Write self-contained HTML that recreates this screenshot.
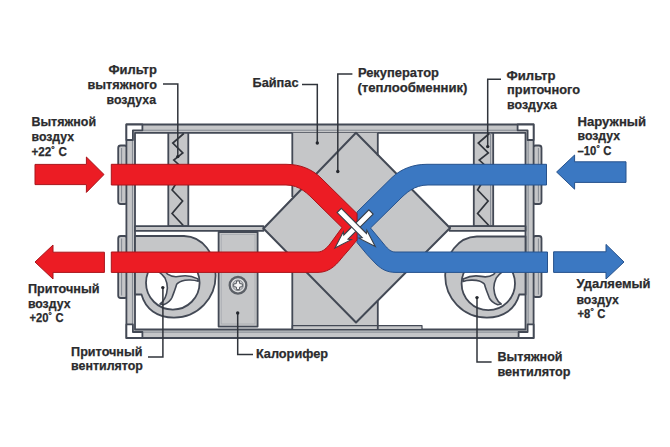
<!DOCTYPE html>
<html lang="ru">
<head>
<meta charset="utf-8">
<title>Приточно-вытяжная установка с рекуператором</title>
<style>
  html, body { margin: 0; padding: 0; background: #ffffff; }
  body { width: 670px; height: 447px; overflow: hidden; font-family: "Liberation Sans", sans-serif; }
  svg { display: block; }
  .t { font-family: "Liberation Sans", sans-serif; font-weight: bold; font-size: 13.2px; fill: #2b2b2d; stroke: #2b2b2d; stroke-width: 0.25; }
  .ln { fill: none; stroke: #30343b; stroke-width: 1.5; }
  .o { stroke: #434955; stroke-width: 1.8; stroke-linejoin: round; }
  .o2 { stroke: #7d838c; stroke-width: 0.9; fill: none; }
  .g { fill: #c5c6c8; }
  .w { fill: #ffffff; }
</style>
</head>
<body>
<svg width="670" height="447" viewBox="0 0 670 447">
  <rect x="0" y="0" width="670" height="447" fill="#ffffff"/>

  <!-- ===== housing ===== -->
  <g id="housing">
    <rect class="o g" x="118.2" y="145.5" width="9" height="58.5" rx="2.5"/>
    <rect class="o g" x="118.2" y="236" width="9" height="62" rx="2.5"/>
    <rect class="o g" x="533" y="145.5" width="8.5" height="58.5" rx="2.5"/>
    <rect class="o g" x="533" y="236" width="8.5" height="61" rx="2.5"/>
    <line class="o2" x1="121.6" y1="148" x2="121.6" y2="201.5"/>
    <line class="o2" x1="121.6" y1="238.5" x2="121.6" y2="295.5"/>
    <line class="o2" x1="538.4" y1="148" x2="538.4" y2="201.5"/>
    <line class="o2" x1="538.4" y1="238.5" x2="538.4" y2="294.5"/>
    <rect class="o g" x="126.4" y="124.5" width="407.20000000000005" height="213.5"/>
    <rect class="o2" x="132.4" y="130.20000000000002" width="395.7" height="201.89999999999998" fill="none"/>
    <rect class="o w" x="135.0" y="132.8" width="390.5" height="196.7"/>
    <!-- corner brackets -->
    <path class="o w" d="M126.4,124.5 H142.4 V130.3 H132.9 V140.0 H126.4 Z"/>
    <path class="o w" d="M533.6,124.5 H517.6 V130.3 H527.6 V140.0 H533.6 Z"/>
    <path class="o w" d="M126.4,338.0 H142.4 V332.0 H132.9 V324.4 H126.4 Z"/>
    <path class="o w" d="M533.6,338.0 H518.6 V332.0 H527.6 V324.4 H533.6 Z"/>
  </g>

  <!-- ===== filters ===== -->
  <g id="filters">
    <rect class="o g" x="168.3" y="132.8" width="20" height="93.39999999999998"/>
    <polyline class="ln" style="stroke-width:1.7" points="183.8,133.5 172.8,143.0 182.8,153.0 173.8,160.0 180.3,166.0"/>
    <polyline class="ln" style="stroke-width:1.7" points="176.3,183.0 172.1,190.0 182.6,201.0 172.1,213.5 183.3,225.5"/>
    <rect class="o g" x="473.8" y="132.8" width="19.4" height="93.39999999999998"/>
    <line class="o2" x1="490.6" y1="132.8" x2="490.6" y2="226"/>
    <polyline class="ln" style="stroke-width:1.7" points="489.3,133.5 478.3,143.0 488.3,153.0 479.3,160.0 485.8,166.0"/>
    <polyline class="ln" style="stroke-width:1.7" points="481.8,183.0 477.6,190.0 488.1,201.0 477.6,213.5 488.8,225.5"/>
  </g>

  <!-- ===== shelves ===== -->
  <rect class="o g" x="135.0" y="226.2" width="128.5" height="4.6"/>
  <rect class="o g" x="449.5" y="226.2" width="76.0" height="4.6"/>

  <!-- ===== fans ===== -->
  <g id="fanL">
    <path class="o g" d="M135.0,236 H184 C203,236.5 215.2,254 215.6,275 C216,298 198,317.6 174,317.6 C157,317.6 145.5,309 141.5,294.5 H135.0 Z"/>
    <circle class="o w" cx="172.8" cy="282.8" r="26.8"/>
    <path transform="translate(172,282.5)" class="o g" style="stroke-width:1.6" d="M-4.5,-8.3 C-1,-6 4,-5.3 8,-6.2 C13,-7.3 20,-6.5 26,-3.6 L26.2,-1.2 C22,-2.6 14,-3 10,-1.5 C7,-0.3 5,1 4.5,2.2 C3.8,5.5 1.8,10 0,15 C-1.5,18.5 -5,20.8 -8.5,22.2 L-12,21.4 C-7.5,18.5 -5.2,13 -4.6,5.5 C-4.6,1 -5.8,-2 -7,-4.5 C-8.5,-6.8 -10.5,-8.8 -12.5,-10.2 L-19,-15 L-16,-18 C-11,-15 -6.5,-11.5 -4.5,-8.3 Z"/>
  </g>
  <g id="fanR">
    <path class="o g" d="M525.5,236.5 H476.8 C457.8,237 445.6,254.5 445.2,275 C444.8,298 462.8,317.6 486.8,317.6 C503.8,317.6 515.3,309 519.3,294.5 H525.5 Z"/>
    <circle class="o w" cx="488.3" cy="283.5" r="26.7"/>
    <path transform="translate(489.2,282.6) scale(-1,1)" class="o g" style="stroke-width:1.6" d="M-4.5,-8.3 C-1,-6 4,-5.3 8,-6.2 C13,-7.3 20,-6.5 26,-3.6 L26.2,-1.2 C22,-2.6 14,-3 10,-1.5 C7,-0.3 5,1 4.5,2.2 C3.8,5.5 1.8,10 0,15 C-1.5,18.5 -5,20.8 -8.5,22.2 L-12,21.4 C-7.5,18.5 -5.2,13 -4.6,5.5 C-4.6,1 -5.8,-2 -7,-4.5 C-8.5,-6.8 -10.5,-8.8 -12.5,-10.2 L-19,-15 L-16,-18 C-11,-15 -6.5,-11.5 -4.5,-8.3 Z"/>
  </g>

  <!-- ===== heater ===== -->
  <g id="heater">
    <rect class="o g" x="218.6" y="232" width="39" height="94.6"/>
    <rect x="221.2" y="234.6" width="33.8" height="89.4" fill="none" stroke="#a3a7ad" stroke-width="0.7"/>
    <g transform="translate(238,285.3)">
      <circle r="8.3" fill="#dedfe0" stroke="#5c6067" stroke-width="2.3"/>
      <circle r="5.3" fill="#cbccce" stroke="#777b82" stroke-width="0.8"/>
      <path d="M-1.4,-4.3 H1.4 L1.7,-1.7 L4.3,-1.4 V1.4 L1.7,1.7 L1.4,4.3 H-1.4 L-1.7,1.7 L-4.3,1.4 V-1.4 L-1.7,-1.7 Z" fill="#f5f5f5" stroke="#4a4e56" stroke-width="0.9" stroke-linejoin="round"/>
    </g>
  </g>

  <!-- ===== exchanger block ===== -->
  <g id="core">
    <path class="g" d="M292.3,132.8 H377.8 V156 L450,228 L377.8,300.5 V329.5 H292.3 V257.5 L263.5,228.5 L292.3,197 Z"/>
    <path class="o g" d="M292.3,325.6 H422 V329.5 H292.3 Z" style="stroke-width:1.2"/>
    <path class="o" fill="none" style="stroke-width:2" d="M356,132.8 L450,228 L356,322.5 L263.5,228.5 Z"/>
    <path class="o" fill="none" d="M292.3,132.8 V197 M292.3,257.5 V329.5 M377.8,132.8 V156 M377.8,300.5 V329.5"/>
  </g>

  <!-- ===== air streams ===== -->
  <g id="streams" stroke-width="1" stroke-linejoin="round">
    <path fill="#3b78c2" stroke="#27528c" d="M546.5,164.3 H427 C413,164.3 401,169 392,177.5 L357,212 V242.5 L367,254.5 L376,264 C382,269.5 387,272.4 396,272.4 H547.5 V252 H395 C391,252 388,249 385,245.5 L370.5,228 L398,201 C406,193 414,185 428,185 H546.5 Z"/>
    <path fill="#ec1c24" stroke="#a8151b" d="M111.3,164.3 H286 C300,164.3 312,169 321,178 L357,213.5 V240 L350,248.5 L343,256.5 C338,262.5 331,272.4 318,272.4 H111.3 V252 H318 C323,252 327,247.5 330,244 L342,227.5 L316,202 C308,194 300,185 286,185 H111.3 Z"/>
  </g>

  <!-- white arrows in the crossing -->
  <g stroke="#3a4049" stroke-width="1.1" fill="#ffffff" stroke-linejoin="miter">
    <path transform="translate(371,212) rotate(135)" d="M0,-3 H35.5 L33.5,-5.6 L51,0 L33.5,5.6 L35.5,3 H0 Z"/>
    <path transform="translate(339.2,210.5) rotate(45)" d="M0,-3 H35.5 L33.5,-5.6 L51,0 L33.5,5.6 L35.5,3 H0 Z"/>
  </g>

  <!-- ===== big arrows ===== -->
  <g stroke-width="1" stroke-linejoin="miter">
    <path d="M35,164.4 H86.4 V157 L104,174.5 L86.4,192.4 V184.6 H35 Z" fill="#ec1c24" stroke="#a8151b"/>
    <path d="M104.4,252.2 H53 V245 L35,262 L53,279 V272.4 H104.4 Z" fill="#ec1c24" stroke="#a8151b"/>
    <path d="M626,161.8 H574.6 V155 L556.6,172 L574.6,189.2 V182.4 H626 Z" fill="#3b78c2" stroke="#27528c"/>
    <path d="M553.6,251.8 H606 V244.4 L624,262 L606,279 V272.4 H553.6 Z" fill="#3b78c2" stroke="#27528c"/>
  </g>

  <!-- ===== leader lines ===== -->
  <g class="ln">
    <path d="M163,84 H177.8 V156.6"/>
    <path d="M302,84.5 H317.3 V143"/>
    <path d="M352.4,74 H337.8 V171.5"/>
    <path d="M501,79.3 H487.7 V146.6"/>
    <path d="M148,357 H162.9 V287.6"/>
    <path d="M253,354.4 H237.7 V313"/>
    <path d="M491.6,362 H477 V297.6"/>
  </g>
  <g fill="#24272d">
    <circle cx="177.8" cy="156.6" r="1.7"/>
    <circle cx="317.3" cy="143" r="1.7"/>
    <circle cx="337.8" cy="171.5" r="1.7"/>
    <circle cx="487.7" cy="146.6" r="1.7"/>
    <circle cx="162.8" cy="287.6" r="1.7"/>
    <circle cx="237.7" cy="313" r="1.7"/>
    <circle cx="477" cy="297.6" r="1.7"/>
  </g>

  <!-- ===== labels ===== -->
  <g class="t">
    <text x="31.5" y="126" textLength="64.6" lengthAdjust="spacingAndGlyphs">Вытяжной</text>
    <text x="31.5" y="141" textLength="42.6" lengthAdjust="spacingAndGlyphs">воздух</text>
    <text x="31.5" y="155.6" textLength="35.4" lengthAdjust="spacingAndGlyphs">+22˚ C</text>
    <text x="108.5" y="74.4" textLength="48.4" lengthAdjust="spacingAndGlyphs">Фильтр</text>
    <text x="87.5" y="89" textLength="69.4" lengthAdjust="spacingAndGlyphs">вытяжного</text>
    <text x="106.5" y="103.6" textLength="49.5" lengthAdjust="spacingAndGlyphs">воздуха</text>
    <text x="252.5" y="87.3" textLength="46.0" lengthAdjust="spacingAndGlyphs">Байпас</text>
    <text x="357.9" y="77" textLength="81.0" lengthAdjust="spacingAndGlyphs">Рекуператор</text>
    <text x="357.5" y="92.4" textLength="110.0" lengthAdjust="spacingAndGlyphs">(теплообменник)</text>
    <text x="506.5" y="79.6" textLength="49.0" lengthAdjust="spacingAndGlyphs">Фильтр</text>
    <text x="507.1" y="94.2" textLength="73.0" lengthAdjust="spacingAndGlyphs">приточного</text>
    <text x="507.1" y="109.2" textLength="49.9" lengthAdjust="spacingAndGlyphs">воздуха</text>
    <text x="577.5" y="125.6" textLength="68.6" lengthAdjust="spacingAndGlyphs">Наружный</text>
    <text x="577.5" y="140" textLength="42.6" lengthAdjust="spacingAndGlyphs">воздух</text>
    <text x="577.5" y="155" textLength="34.0" lengthAdjust="spacingAndGlyphs">–10˚ C</text>
    <text x="27.9" y="292.6" textLength="71.6" lengthAdjust="spacingAndGlyphs">Приточный</text>
    <text x="27.9" y="307.6" textLength="42.6" lengthAdjust="spacingAndGlyphs">воздух</text>
    <text x="29.5" y="321.6" textLength="34.0" lengthAdjust="spacingAndGlyphs">+20˚ C</text>
    <text x="71.1" y="355.6" textLength="71.4" lengthAdjust="spacingAndGlyphs">Приточный</text>
    <text x="71.1" y="370" textLength="71.8" lengthAdjust="spacingAndGlyphs">вентилятор</text>
    <text x="255.9" y="357.6" textLength="72.2" lengthAdjust="spacingAndGlyphs">Калорифер</text>
    <text x="497.5" y="361" textLength="65.0" lengthAdjust="spacingAndGlyphs">Вытяжной</text>
    <text x="497.5" y="375.6" textLength="73.0" lengthAdjust="spacingAndGlyphs">вентилятор</text>
    <text x="576.5" y="288.4" textLength="74.0" lengthAdjust="spacingAndGlyphs">Удаляемый</text>
    <text x="576.5" y="304" textLength="42.4" lengthAdjust="spacingAndGlyphs">воздух</text>
    <text x="577.5" y="318.4" textLength="28.0" lengthAdjust="spacingAndGlyphs">+8˚ C</text>
  </g>
</svg>
</body>
</html>
